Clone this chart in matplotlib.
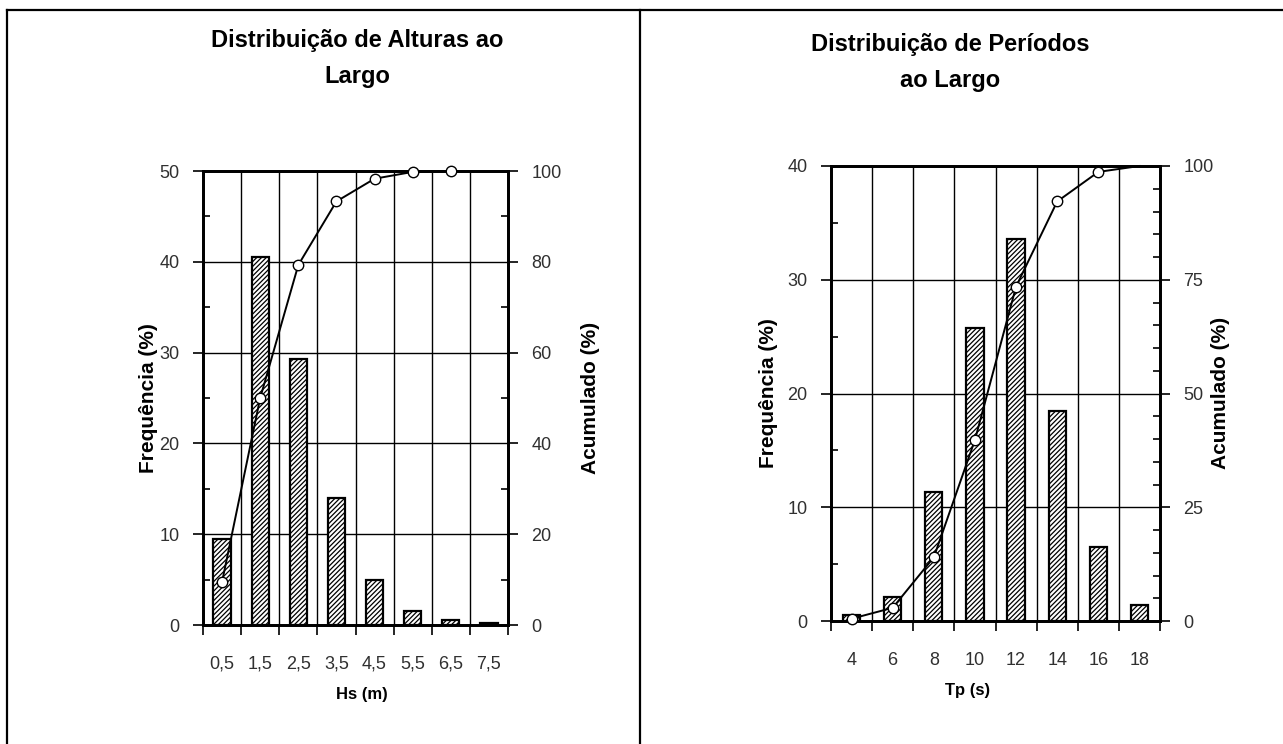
import numpy as np
import matplotlib.pyplot as plt
from matplotlib.ticker import MultipleLocator, FixedLocator, NullFormatter
from matplotlib.lines import Line2D

plt.rcParams['font.family'] = ['Liberation Sans', 'DejaVu Sans']
plt.rcParams['hatch.linewidth'] = 0.9

# left panel: wave heights
hs_labels = ['0,5', '1,5', '2,5', '3,5', '4,5', '5,5', '6,5', '7,5']
hs_freq = [9.5, 40.5, 29.3, 14.0, 5.0, 1.5, 0.6, 0.2]
hs_cum = [9.5, 50.0, 79.3, 93.3, 98.3, 99.8, 100.0, np.nan]

# right panel: periods
tp_labels = ['4', '6', '8', '10', '12', '14', '16', '18']
tp_freq = [0.5, 2.1, 11.3, 25.8, 33.6, 18.5, 6.5, 1.4]
tp_cum = [0.5, 2.9, 14.0, 39.8, 73.5, 92.2, 98.7, 100.0]

W, H = 1283, 744
fig = plt.figure(figsize=(W / 100, H / 100), dpi=100)

TICK_COLOR = '#303030'


def px(x, y):
    return x / W, 1 - y / H


def panel(rect, labels, freq, cum, ymax, rmaj, rmin, bar_w, n_markers):
    ax = fig.add_axes(rect)
    x = np.arange(len(labels))
    ax.bar(x, freq, width=bar_w, facecolor='white', edgecolor='black',
           linewidth=1.6, hatch='///////', zorder=3)
    ax.set_xlim(-0.5, len(labels) - 0.5)
    ax.set_ylim(0, ymax)
    ax.xaxis.set_major_locator(FixedLocator(np.arange(len(labels) + 1) - 0.5))
    ax.xaxis.set_major_formatter(NullFormatter())
    ax.set_xticks(x, labels, minor=True)
    ax.tick_params(axis='x', which='major', direction='out', length=7, width=1.2)
    ax.tick_params(axis='x', which='minor', length=0, labelsize=13,
                   labelcolor=TICK_COLOR, pad=22)
    ax.yaxis.set_major_locator(MultipleLocator(10))
    ax.yaxis.set_minor_locator(MultipleLocator(5))
    ax.tick_params(axis='y', which='major', direction='out', length=7, width=1.2,
                   labelsize=13, labelcolor=TICK_COLOR, pad=10)
    ax.tick_params(axis='y', which='minor', direction='in', length=5, width=1.2)
    ax.grid(True, which='major', color='black', linewidth=1.0, zorder=1)
    ax.set_axisbelow(True)
    for s in ax.spines.values():
        s.set_linewidth(2.0)

    ax2 = ax.twinx()
    ax2.set_ylim(0, 100)
    ax2.yaxis.set_major_locator(MultipleLocator(rmaj))
    ax2.yaxis.set_minor_locator(MultipleLocator(rmin))
    ax2.tick_params(axis='y', which='major', direction='out', length=7, width=1.2,
                    labelsize=13, labelcolor=TICK_COLOR, pad=10)
    ax2.tick_params(axis='y', which='minor', direction='in', length=5, width=1.2)
    for s in ax2.spines.values():
        s.set_linewidth(2.0)
    ax2.plot(x, cum, color='black', linewidth=1.4, marker='o', markersize=7.5,
             markerfacecolor='white', markeredgecolor='black', markeredgewidth=1.0,
             markevery=list(range(n_markers)), clip_on=False, zorder=5)
    return ax


ax_l = panel([203 / W, 1 - 625 / H, 305 / W, 454 / H], hs_labels, hs_freq, hs_cum,
             50, 20, 10, 0.45, 7)
ax_r = panel([831 / W, 1 - 621 / H, 329 / W, 455 / H], tp_labels, tp_freq, tp_cum,
             40, 25, 5, 0.42, 7)

# titles
fig.text(*px(357, 40), 'Distribuição de Alturas ao', ha='center', va='center',
         fontsize=17, fontweight='bold')
fig.text(*px(357, 77), 'Largo', ha='center', va='center',
         fontsize=17, fontweight='bold')
fig.text(*px(950, 45), 'Distribuição de Períodos', ha='center', va='center',
         fontsize=17, fontweight='bold')
fig.text(*px(950, 80), 'ao Largo', ha='center', va='center',
         fontsize=17, fontweight='bold')

# axis labels
fig.text(*px(148, 398), 'Frequência (%)', rotation=90, ha='center', va='center',
         fontsize=15, fontweight='bold')
fig.text(*px(590, 398), 'Acumulado (%)', rotation=90, ha='center', va='center',
         fontsize=15, fontweight='bold')
fig.text(*px(768, 393), 'Frequência (%)', rotation=90, ha='center', va='center',
         fontsize=15, fontweight='bold')
fig.text(*px(1220, 393), 'Acumulado (%)', rotation=90, ha='center', va='center',
         fontsize=15, fontweight='bold')
fig.text(*px(362, 695), 'Hs (m)', ha='center', va='center',
         fontsize=12, fontweight='bold')
fig.text(*px(968, 690), 'Tp (s)', ha='center', va='center',
         fontsize=12, fontweight='bold')

# frame around the two panels
for xs, ys in [((7, W), (10, 10)), ((7, 7), (10, H)), ((640, 640), (10, H))]:
    fig.add_artist(Line2D([xx / W for xx in xs], [1 - yy / H for yy in ys],
                          color='black', linewidth=1.6))

fig.savefig('out.png', dpi=100)
